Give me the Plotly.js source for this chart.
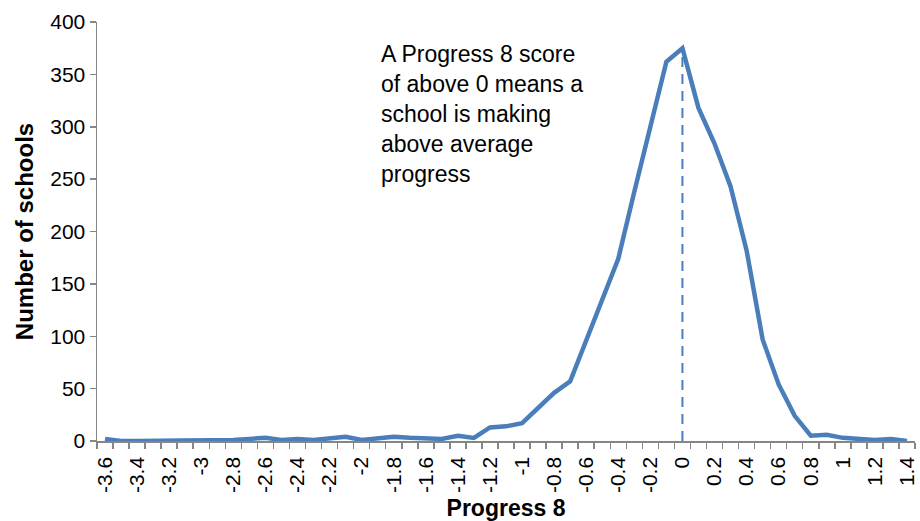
<!DOCTYPE html>
<html>
<head>
<meta charset="utf-8">
<script src="https://cdn.plot.ly/plotly-3.0.1.min.js"></script>
<style>
html, body { margin: 0; padding: 0; background: #ffffff; }
#chart { width: 920px; height: 521px; }
</style>
</head>
<body>
<div id="chart"></div>
<script>
// Progress 8 score bands (categories)
const progress8 = ["-3.6","-3.5","-3.4","-3.3","-3.2","-3.1","-3","-2.9","-2.8","-2.7",
  "-2.6","-2.5","-2.4","-2.3","-2.2","-2.1","-2","-1.9","-1.8","-1.7",
  "-1.6","-1.5","-1.4","-1.3","-1.2","-1.1","-1","-0.9","-0.8","-0.7",
  "-0.6","-0.5","-0.4","-0.3","-0.2","-0.1","0","0.1","0.2","0.3",
  "0.4","0.5","0.6","0.7","0.8","0.9","1","1.1","1.2","1.3","1.4"];

// Number of schools in each band
const schools = [2,0,0,0,0,1,1,0,1,2,
  3,1,2,1,3,4,1,3,4,3,
  2,2,5,3,13,14,17,32,46,57,
  97,136,174,238,300,362,375,318,284,243,
  182,97,54,24,5,6,3,2,1,2,0];

// Labelled ticks on the x axis
const tickLabels = ["-3.6","-3.4","-3.2","-3","-2.8","-2.6","-2.4","-2.2","-2","-1.8",
  "-1.6","-1.4","-1.2","-1","-0.8","-0.6","-0.4","-0.2","0","0.2",
  "0.4","0.6","0.8","1","1.2","1.4"];

// Reference score marked by the dashed line
const referenceScore = "0";

const noteLines = ["A Progress 8 score", "of above 0 means a", "school is making", "above average", "progress"];

const xVals = progress8.map(Number);
const refIdx = progress8.indexOf(referenceScore);

const blue = "#4a7ebb";
const axisGray = "#868686";
const fontFam = "Liberation Sans, Arial, sans-serif";

const traces = [
  {
    x: [xVals[refIdx], xVals[refIdx]],
    y: [0, schools[refIdx]],
    type: "scatter",
    mode: "lines",
    line: { color: blue, width: 2, dash: "10px,7px" },
    hoverinfo: "skip",
    showlegend: false
  },
  {
    x: xVals,
    y: schools,
    type: "scatter",
    mode: "lines",
    line: { color: blue, width: 4.5 },
    showlegend: false
  }
];

const layout = {
  width: 920,
  height: 521,
  margin: { l: 97, r: 5, t: 22, b: 80 },
  paper_bgcolor: "#ffffff",
  plot_bgcolor: "#ffffff",
  showlegend: false,
  font: { family: fontFam, color: "#000000" },
  xaxis: {
    range: [-3.65, 1.45],
    tickvals: tickLabels.map(Number),
    ticktext: tickLabels,
    tickangle: -90,
    ticks: "outside",
    ticklen: 6,
    tickcolor: "rgba(0,0,0,0)",
    ticklabeloverflow: "allow",
    showline: true,
    linecolor: axisGray,
    linewidth: 1.5,
    showgrid: false,
    zeroline: false,
    tickfont: { family: fontFam, size: 21, color: "#000000" },
    minor: { tick0: -3.65, dtick: 0.1, ticks: "outside", ticklen: 6, tickcolor: axisGray, tickwidth: 1.5, showgrid: false },
    title: { text: "Progress 8", font: { family: fontFam, size: 23, weight: "bold", color: "#000000" }, standoff: 17 }
  },
  yaxis: {
    range: [0, 400],
    dtick: 50,
    tick0: 0,
    ticks: "outside",
    ticklen: 6,
    tickwidth: 1.5,
    tickcolor: axisGray,
    showline: true,
    linecolor: axisGray,
    linewidth: 1.5,
    showgrid: false,
    zeroline: false,
    tickfont: { family: fontFam, size: 21, color: "#000000" },
    title: { text: "Number of schools", font: { family: fontFam, size: 24, weight: "bold", color: "#000000" }, standoff: 10 }
  },
  annotations: [
    {
      xref: "paper", yref: "paper",
      x: 0.345, y: 0.96,
      xanchor: "left", yanchor: "top",
      align: "left",
      showarrow: false,
      text: noteLines.join("<br>"),
      font: { family: fontFam, size: 23, color: "#000000" }
    }
  ]
};

Plotly.newPlot("chart", traces, layout, { displayModeBar: false, staticPlot: true });
</script>
</body>
</html>
